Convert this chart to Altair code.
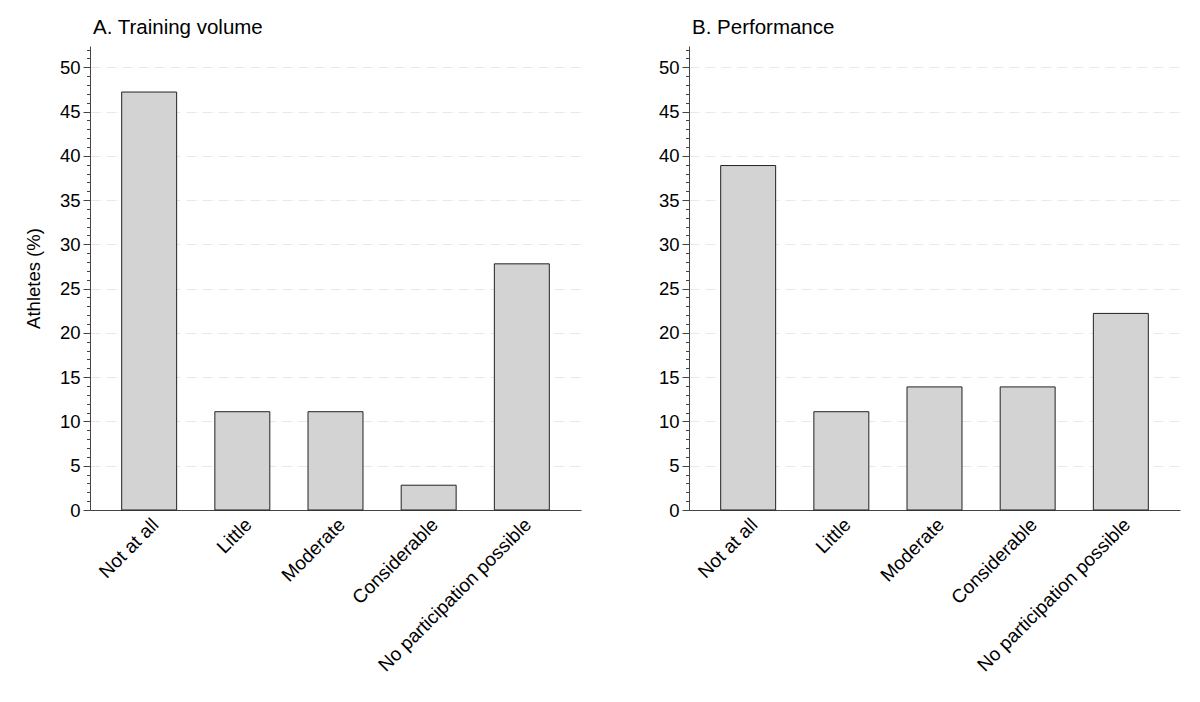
import altair as alt
import pandas as pd

categories = ["Not at all", "Little", "Moderate", "Considerable", "No participation possible"]
training_volume = [47.2, 11.1, 11.1, 2.8, 27.8]
performance = [38.9, 11.1, 13.9, 13.9, 22.2]
y_ticks = list(range(0, 53))

FONT = "Liberation Sans"

def panel(values, title, show_ytitle):
    df = pd.DataFrame({"category": categories, "pct": values})
    return alt.Chart(df).mark_bar(
        fill="#d3d3d3", stroke="#222222", strokeWidth=1
    ).encode(
        x=alt.X("category:N", sort=categories, title=None,
                scale=alt.Scale(paddingInner=0.41, paddingOuter=0.34),
                axis=alt.Axis(labelAngle=-45, labelFontSize=19, labelFont=FONT,
                              labelColor="#000000", ticks=False, grid=False, labelLimit=0,
                              domainColor="#444444", labelPadding=5)),
        y=alt.Y("pct:Q", title="Athletes (%)" if show_ytitle else None,
                scale=alt.Scale(domain=[0, 52.4], nice=False),
                axis=alt.Axis(values=y_ticks, grid=True,
                              labelExpr="datum.value % 5 === 0 ? datum.label : ''",
                              tickSize={"expr": "datum.value % 5 === 0 ? 7 : 3.5"},
                              gridOpacity={"expr": "datum.value % 5 === 0 && datum.value > 0 ? 1 : 0"},
                              gridDash=[10, 6], gridColor="#e8e8e8", gridWidth=1,
                              tickColor="#444444", domainColor="#444444",
                              labelFontSize=18.5, labelFont=FONT, labelColor="#000000",
                              titleFontSize=18.5, titleFont=FONT, titleFontWeight="normal",
                              titleColor="#000000", titlePadding=16, labelPadding=3)),
    ).properties(
        width=491, height=464,
        title=alt.TitleParams(title, anchor="start", frame="group", fontSize=20.5, font=FONT,
                              fontWeight="normal", color="#000000", offset=8, dx=3)
    )

chart = alt.hconcat(
    panel(training_volume, "A. Training volume", True),
    panel(performance, "B. Performance", False),
    spacing=77,
).properties(
    padding={"left": 16, "top": 9, "right": 5, "bottom": 5}
).configure_view(stroke=None)
chart.save("out.html", embed_options={"renderer": "svg", "actions": False})
